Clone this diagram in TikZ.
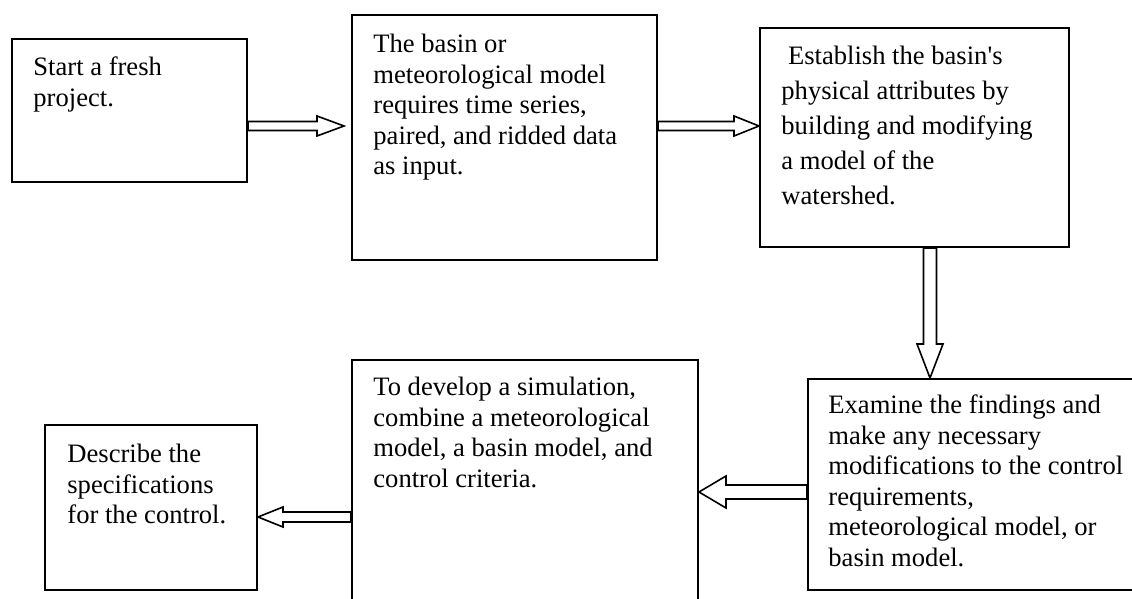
\documentclass[tikz,border=0pt]{standalone}
\usepackage{fontspec}
\setmainfont{Liberation Serif}
\newfontfamily\tnrplain{Liberation Serif}
\usetikzlibrary{calc,fit}
\newcommand{\blockarrow}[5]{%
  \path ($(#2)!#5!(#1)$) coordinate (ab);
  \draw[arrowline]
    ($(#1)!#3!90:(#2)$) --
    ($(ab)!#3!90:(#2)$) --
    ($(ab)!#4!90:(#2)$) --
    (#2) --
    ($(ab)!#4!-90:(#2)$) --
    ($(ab)!#3!-90:(#2)$) --
    ($(#1)!#3!-90:(#2)$) -- cycle;
}
\begin{document}
\begin{tikzpicture}[x=0.5pt,y=-0.5pt,
  box/.style={draw=black, line width=1pt, inner sep=0pt, fill=none},
  txt/.style={anchor=north west, inner sep=0pt, align=left, font=\tnrplain\fontsize{13.3}{15.25}\selectfont},
  arrowline/.style={draw=black, line width=0.8pt, fill=white, line join=miter}]
\useasboundingbox (0,0) rectangle (1132,599);
\clip (0,0) rectangle (1132,599);
% boxes
\node[box, fit={(12,39) (247,182)}] (b1) {};
\node[box, fit={(352,15) (657,260)}] (b2) {};
\node[box, fit={(760,28) (1069,247)}] (b3) {};
\node[box, fit={(808,379) (1145,590)}] (b4) {};
\node[box, fit={(352,360) (698,615)}] (b5) {};
\node[box, fit={(45,425) (257,590)}] (b6) {};
% texts
\node[txt] (t1) at (33,56.8) {Start a fresh\\project.};
\node[txt] (t2) at (373,33.8) {The basin or\\meteorological model\\requires time series,\\paired, and ridded data\\as input.};
\node[txt, font=\tnrplain\fontsize{13.3}{17.5}\selectfont] (t3) at (781,45.8) {\ Establish the basin's\\physical attributes by\\building and modifying\\a model of the\\watershed.};
\node[txt] (t4) at (828,394.8) {Examine the findings and\\make any necessary\\modifications to the control\\requirements,\\meteorological model, or\\basin model.};
\node[txt] (t5) at (373,376.8) {To develop a simulation,\\combine a meteorological\\model, a basin model, and\\control criteria.};
\node[txt] (t6) at (67,443.8) {Describe the\\specifications\\for the control.};
% connectors
\coordinate (s1) at (b1.east |- 0,126);
\coordinate (e1) at ($(b2.west |- 0,126)+(-7,0)$);
\coordinate (s2) at (b2.east |- 0,126);
\coordinate (e2) at (b3.west |- 0,126);
\coordinate (s3) at (b3.south -| 930,0);
\coordinate (e3) at (b4.north -| 930,0);
\coordinate (s4) at (b4.west |- 0,492);
\coordinate (e4) at (b5.east |- 0,492);
\coordinate (s5) at (b5.west |- 0,517);
\coordinate (e5) at (b6.east |- 0,517);
\blockarrow{s1}{e1}{2.25pt}{5pt}{13.5pt}
\blockarrow{s2}{e2}{2.25pt}{5pt}{12.5pt}
\blockarrow{s3}{e3}{3.25pt}{6.5pt}{17pt}
\blockarrow{s4}{e4}{3.5pt}{8pt}{13.5pt}
\blockarrow{s5}{e5}{2.5pt}{5pt}{12.5pt}
\end{tikzpicture}
\end{document}
